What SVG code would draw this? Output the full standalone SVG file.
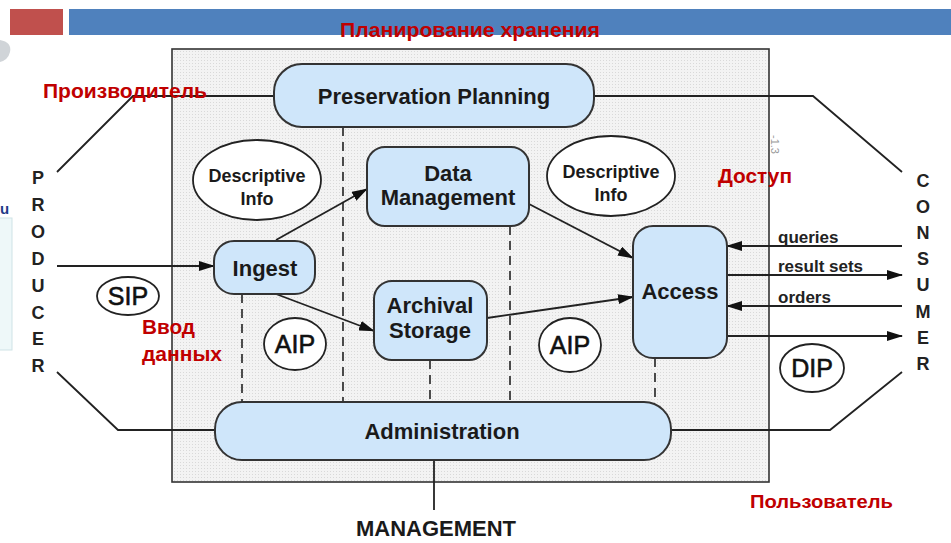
<svg xmlns="http://www.w3.org/2000/svg" width="951" height="543" viewBox="0 0 951 543">
<defs>
<pattern id="dots" width="3" height="3" patternUnits="userSpaceOnUse">
<rect width="3" height="3" fill="#f3f3f3"/>
<rect width="1" height="1" fill="#d9d9d9"/>
</pattern>
<marker id="ah" markerWidth="16" markerHeight="10" refX="15" refY="5" orient="auto" markerUnits="userSpaceOnUse">
<path d="M0,0 L16,5 L0,10 Z" fill="#111"/>
</marker>
</defs>
<style>
.node{fill:#cfe6fa;stroke:#333;stroke-width:2}
.ell{fill:#fff;stroke:#222;stroke-width:1.8}
.lbl{font-family:"Liberation Sans",Arial,sans-serif;font-weight:bold;font-size:22px;fill:#1a1a1a;text-anchor:middle}
.di{font-family:"Liberation Sans",Arial,sans-serif;font-weight:bold;font-size:18px;fill:#1a1a1a;text-anchor:middle}
.pk{font-family:"Liberation Sans",Arial,sans-serif;font-size:25px;fill:#111;stroke:#111;stroke-width:0.6;text-anchor:middle}
.vert{font-family:"Liberation Sans",Arial,sans-serif;font-weight:bold;font-size:18px;fill:#222;text-anchor:middle}
.red{font-family:"Liberation Sans",Arial,sans-serif;font-weight:bold;fill:#c00000}
.flow{font-family:"Liberation Sans",Arial,sans-serif;font-weight:bold;font-size:17px;fill:#222}
.ln{fill:none;stroke:#222;stroke-width:1.8}
.ds{fill:none;stroke:#222;stroke-width:1.6;stroke-dasharray:9 6}
</style>

<!-- slide header -->
<rect x="10" y="9" width="53" height="26" fill="#c0504d"/>
<rect x="69" y="9" width="882" height="26" fill="#4f81bd"/>
<!-- left slide artifacts -->
<path d="M0,40 Q12,42 10,52 Q8,60 0,62 Z" fill="#d0d4d8"/>
<rect x="-2" y="218" width="14" height="132" fill="#eef8f9" stroke="#cfe3e6"/>
<text x="0" y="214" font-family="Liberation Sans,Arial,sans-serif" font-weight="bold" font-size="15" fill="#1f3c88">u</text>

<!-- main box -->
<rect x="172" y="49" width="597" height="433" fill="url(#dots)" stroke="#333" stroke-width="1.6"/>
<text transform="translate(771,135) rotate(90)" font-family="Liberation Sans,Arial,sans-serif" font-size="11" fill="#999">-1.3</text>

<g id="connectors">
<!-- outer lines -->
<polyline class="ln" points="274,96 133,96 57,172"/>
<polyline class="ln" points="594,96 813,96 902,172"/>
<polyline class="ln" points="215,430 118,430 57,372"/>
<polyline class="ln" points="671,430 830,430 902,372"/>
<line class="ln" x1="434" y1="460" x2="434" y2="510"/>
<!-- dashed -->
<line class="ds" x1="343" y1="127" x2="343" y2="402"/>
<line class="ds" x1="510" y1="226" x2="510" y2="402"/>
<line class="ds" x1="242" y1="294" x2="242" y2="402"/>
<line class="ds" x1="430" y1="360" x2="430" y2="402"/>
<line class="ds" x1="655" y1="358" x2="655" y2="402"/>
<!-- arrows -->
<line class="ln" x1="57" y1="266" x2="214" y2="266" marker-end="url(#ah)"/>
<line class="ln" x1="276" y1="240" x2="367" y2="189" marker-end="url(#ah)"/>
<line class="ln" x1="276" y1="294" x2="374" y2="331" marker-end="url(#ah)"/>
<line class="ln" x1="529" y1="204" x2="633" y2="258" marker-end="url(#ah)"/>
<line class="ln" x1="487" y1="318" x2="633" y2="297" marker-end="url(#ah)"/>
<line class="ln" x1="902" y1="246" x2="727" y2="246" marker-end="url(#ah)"/>
<line class="ln" x1="727" y1="275" x2="902" y2="275" marker-end="url(#ah)"/>
<line class="ln" x1="902" y1="306" x2="727" y2="306" marker-end="url(#ah)"/>
<line class="ln" x1="727" y1="336" x2="902" y2="336" marker-end="url(#ah)"/>
<text class="flow" x="778" y="243">queries</text>
<text class="flow" x="778" y="272">result sets</text>
<text class="flow" x="778" y="303">orders</text>
</g>

<g id="preservation-planning">
<rect class="node" x="274" y="64" width="320" height="63" rx="28"/>
<text class="lbl" x="434" y="104">Preservation Planning</text>
</g>
<g id="data-management">
<rect class="node" x="367" y="147" width="162" height="79" rx="18"/>
<text class="lbl" x="448" y="181">Data</text>
<text class="lbl" x="448" y="205">Management</text>
</g>
<g id="ingest">
<rect class="node" x="214" y="241" width="101" height="53" rx="20"/>
<text class="lbl" x="265" y="276">Ingest</text>
</g>
<g id="archival-storage">
<rect class="node" x="374" y="281" width="113" height="79" rx="18"/>
<text class="lbl" x="430" y="313">Archival</text>
<text class="lbl" x="430" y="338">Storage</text>
</g>
<g id="access">
<rect class="node" x="633" y="226" width="94" height="132" rx="20"/>
<text class="lbl" x="680" y="299">Access</text>
</g>
<g id="administration">
<rect class="node" x="215" y="402" width="456" height="58" rx="27"/>
<text class="lbl" x="442" y="439">Administration</text>
</g>
<g id="descriptive-info-1">
<ellipse class="ell" cx="257" cy="180" rx="64" ry="40"/>
<text class="di" x="257" y="182">Descriptive</text>
<text class="di" x="257" y="205">Info</text>
</g>
<g id="descriptive-info-2">
<ellipse class="ell" cx="611" cy="176" rx="64" ry="40"/>
<text class="di" x="611" y="178">Descriptive</text>
<text class="di" x="611" y="201">Info</text>
</g>
<g id="sip">
<ellipse class="ell" cx="128" cy="296" rx="31" ry="19"/>
<text class="pk" x="128" y="305">SIP</text>
</g>
<g id="aip-1">
<ellipse class="ell" cx="295" cy="344" rx="31" ry="26"/>
<text class="pk" x="295" y="353">AIP</text>
</g>
<g id="aip-2">
<ellipse class="ell" cx="570" cy="345" rx="31" ry="27"/>
<text class="pk" x="570" y="354">AIP</text>
</g>
<g id="dip">
<ellipse class="ell" cx="812" cy="368" rx="32" ry="24"/>
<text class="pk" x="812" y="377">DIP</text>
</g>

<g id="producer">
<text class="vert"><tspan x="38" y="184">P</tspan><tspan x="38" dy="26.9">R</tspan><tspan x="38" dy="26.9">O</tspan><tspan x="38" dy="26.9">D</tspan><tspan x="38" dy="26.9">U</tspan><tspan x="38" dy="26.9">C</tspan><tspan x="38" dy="26.9">E</tspan><tspan x="38" dy="26.9">R</tspan></text>
</g>
<g id="consumer">
<text class="vert"><tspan x="923" y="187">C</tspan><tspan x="923" dy="26.1">O</tspan><tspan x="923" dy="26.1">N</tspan><tspan x="923" dy="26.1">S</tspan><tspan x="923" dy="26.1">U</tspan><tspan x="923" dy="26.1">M</tspan><tspan x="923" dy="26.1">E</tspan><tspan x="923" dy="26.1">R</tspan></text>
</g>
<g id="management">
<text class="lbl" x="436" y="536" font-size="21" textLength="160" lengthAdjust="spacingAndGlyphs">MANAGEMENT</text>
</g>

<!-- red annotations -->
<text class="red" x="340" y="37" font-size="20" textLength="260" lengthAdjust="spacingAndGlyphs">Планирование хранения</text>
<text class="red" x="43" y="98" font-size="20" textLength="164" lengthAdjust="spacingAndGlyphs">Производитель</text>
<text class="red" x="718" y="183" font-size="20" textLength="74" lengthAdjust="spacingAndGlyphs">Доступ</text>
<text class="red" x="142" y="334" font-size="20" textLength="53" lengthAdjust="spacingAndGlyphs">Ввод</text>
<text class="red" x="142" y="361" font-size="20" textLength="80" lengthAdjust="spacingAndGlyphs">данных</text>
<text class="red" x="750" y="508" font-size="19" textLength="143" lengthAdjust="spacingAndGlyphs">Пользователь</text>
</svg>
